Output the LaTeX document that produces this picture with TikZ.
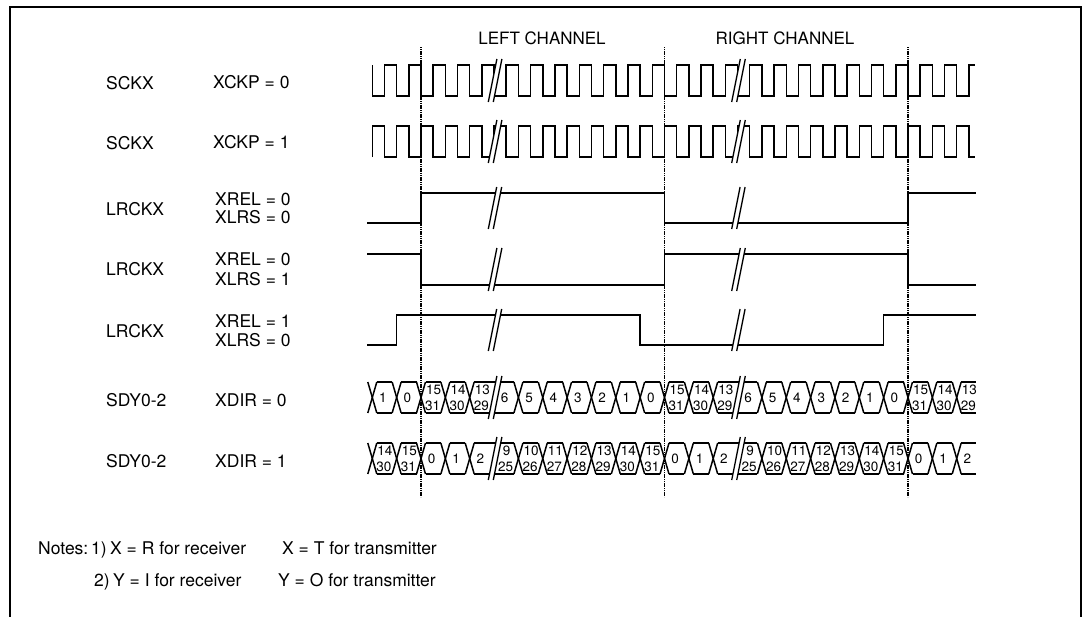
\documentclass[tikz,border=0pt]{standalone}
\usepackage{fontspec}
\setmainfont{TeX Gyre Heros}
\begin{document}
\begin{tikzpicture}[x=1pt,y=-1pt,
  sig/.style={line width=1.5pt, line join=miter, line cap=butt},
  slashln/.style={line width=1.3pt},
  grid/.style={line width=1.8pt, dash pattern=on 1.2pt off 0.6pt},
  lbl/.style={anchor=base west, inner sep=0pt, font=\fontsize{17.5}{20}\selectfont},
  chl/.style={anchor=base, inner sep=0pt, font=\fontsize{17}{20}\selectfont},
  num/.style={inner sep=0pt, font=\fontsize{13.5}{14}\selectfont},
  note/.style={anchor=base west, inner sep=0pt, font=\fontsize{17.5}{20}\selectfont}]
\useasboundingbox (0,0) rectangle (1086,616);
\def\p{24.35}
\def\h{12.175}
\def\w{4.5}
% frame
\draw[line width=2.2pt] (10,650) -- (10,7) -- (1081,7) -- (1081,650);
% channel titles
\node[chl] (lc) at (542,44) {LEFT CHANNEL};
\node[chl] (rc) at (785,44) {RIGHT CHANNEL};
% row labels
\node[lbl] (n1) at (106,89.5) {SCKX};
\node[lbl] (m1) at (213,88.5) {XCKP = 0};
\node[lbl] (n2) at (106,149) {SCKX};
\node[lbl] (m2) at (213,148.5) {XCKP = 1};
\node[lbl] (n3) at (106,215) {LRCKX};
\node[lbl] (m3a) at (215,205) {XREL = 0};
\node[lbl] (m3b) at (215,223.5) {XLRS = 0};
\node[lbl] (n4) at (106,275.5) {LRCKX};
\node[lbl] (m4a) at (215,265) {XREL = 0};
\node[lbl] (m4b) at (215,285) {XLRS = 1};
\node[lbl] (n5) at (106,337.5) {LRCKX};
\node[lbl] (m5a) at (215,327.5) {XREL = 1};
\node[lbl] (m5b) at (215,346) {XLRS = 0};
\node[lbl] (n6) at (106,406) {SDY0-2};
\node[lbl] (m6) at (215,406) {XDIR = 0};
\node[lbl] (n7) at (106,467) {SDY0-2};
\node[lbl] (m7) at (215,467) {XDIR = 1};
% clocks
\draw[sig] (372.3,65) \foreach \i in {1,...,24}{ -- ++(0,31) -- ++(\h,0) -- ++(0,-31) -- ++(\h,0)} -- ++(0,31) -- ++(\h,0) -- ++(0,-31) -- ++(6.1,0);
\draw[sig] (372.3,157) \foreach \i in {1,...,24}{ -- ++(0,-31) -- ++(\h,0) -- ++(0,31) -- ++(\h,0)} -- ++(0,-31) -- ++(\h,0) -- ++(0,31) -- ++(6.1,0);
% LRCKX
\draw[sig] (367,223) -- (421,223) -- (421,193) -- (664.5,193) -- (664.5,223) -- (908,223) -- (908,193) -- (976,193);
\draw[sig] (367,254) -- (421,254) -- (421,285) -- (664.5,285) -- (664.5,254) -- (908,254) -- (908,285) -- (976,285);
\draw[sig] (367,345) -- (396.65,345) -- (396.65,315) -- (640.15,315) -- (640.15,345) -- (883.65,345) -- (883.65,315) -- (976,315);
% data buses
\foreach \yt/\yb in {382/413,443/474}{
  \foreach \k in {0,...,24}{
    \ifnum\k=5 \else\ifnum\k=15 \else
      \draw[sig] ({372.3+\k*\p-\w},\yt) -- ({372.3+\k*\p+\w},\yb);
      \draw[sig] ({372.3+\k*\p-\w},\yb) -- ({372.3+\k*\p+\w},\yt);
    \fi\fi
  }
  \foreach \a/\b in {0/1,1/2,2/3,3/4,4/6,6/7,7/8,8/9,9/10,10/11,11/12,12/13,13/14,14/16,16/17,17/18,18/19,19/20,20/21,21/22,22/23,23/24}{
    \draw[sig] ({372.3+\a*\p+\w},\yt) -- ({372.3+\b*\p-\w},\yt);
    \draw[sig] ({372.3+\a*\p+\w},\yb) -- ({372.3+\b*\p-\w},\yb);
  }
  \draw[sig] ({372.3+24*\p+\w},\yt) -- (976,\yt);
  \draw[sig] ({372.3+24*\p+\w},\yb) -- (976,\yb);
}
% breaks
\foreach \yt/\yb in {65/96,126/157,193/223,254/285,315/345,382/413,443/474}{
  \foreach \xo in {488.3,731.7}{
    \pgfmathsetmacro{\dx}{0.2*(\yb-\yt+12)}
    \fill[white] (\xo,\yb+6) -- (\xo+\dx,\yt-6) -- (\xo+5+\dx,\yt-6) -- (\xo+5,\yb+6) -- cycle;
    \draw[slashln] (\xo,\yb+6) -- (\xo+\dx,\yt-6);
    \draw[slashln] (\xo+5,\yb+6) -- (\xo+5+\dx,\yt-6);
  }
}
% dotted channel boundaries
\foreach \x in {421,664.5,908}{
  \draw[grid] (\x,47) -- (\x,497);
}
% data labels row 1
\foreach \k/\t in {0/1,1/0,5/6,6/5,7/4,8/3,9/2,10/1,11/0,15/6,16/5,17/4,18/3,19/2,20/1,21/0}{
  \node[num] at ({372.3+(\k+0.5)*\p-1.5},397.5) {\t};
}
\foreach \k/\t/\b in {2/15/31,3/14/30,4/13/29,12/15/31,13/14/30,14/13/29,22/15/31,23/14/30,24/13/29}{
  \node[num] at ({372.3+(\k+0.5)*\p+0.5},390) {\t};
  \node[num] at ({372.3+(\k+0.5)*\p-0.5},405.5) {\b};
}
% data labels row 2
\foreach \k/\t in {2/0,3/1,4/2,12/0,13/1,14/2,22/0,23/1,24/2}{
  \node[num] at ({372.3+(\k+0.5)*\p-1.5},458.5) {\t};
}
\foreach \k/\t/\b in {0/14/30,1/15/31,5/9/25,6/10/26,7/11/27,8/12/28,9/13/29,10/14/30,11/15/31,15/9/25,16/10/26,17/11/27,18/12/28,19/13/29,20/14/30,21/15/31}{
  \node[num] at ({372.3+(\k+0.5)*\p+0.5},451) {\t};
  \node[num] at ({372.3+(\k+0.5)*\p-0.5},466.5) {\b};
}
% notes
\node[note] (nt) at (38,554) {Notes:};
\node[note] (n1a) at (91,554) {1)};
\node[note] (n1b) at (110,554) {X = R for receiver};
\node[note] (n1c) at (282,554) {X = T for transmitter};
\node[note] (n2a) at (94,586) {2)};
\node[note] (n2b) at (113,586) {Y = I for receiver};
\node[note] (n2c) at (278,586) {Y = O for transmitter};
\end{tikzpicture}
\end{document}
